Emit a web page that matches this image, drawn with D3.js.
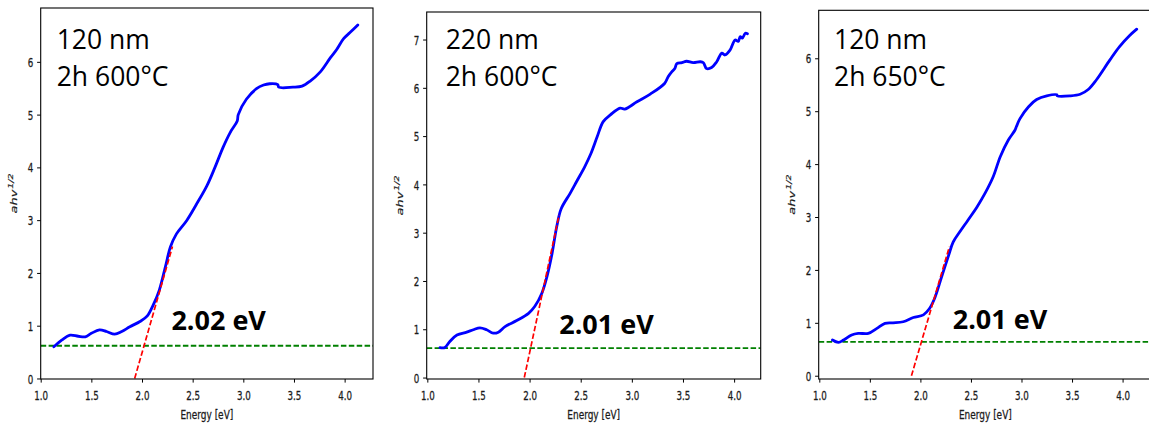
<!DOCTYPE html>
<html>
<head>
<meta charset="utf-8">
<script src="https://cdn.jsdelivr.net/npm/d3@7"></script>
<style>
  body { margin: 0; background: #fff; }
  svg { display: block; }
</style>
</head>
<body>
<svg id="fig" width="1149" height="426"></svg>
<script>
// Tauc plots: (alpha h nu)^(1/2) versus photon energy for three films.

// Film 1: 120 nm, 2h at 600 °C
const energy120at600 = [1.13, 1.21, 1.29, 1.37, 1.44, 1.50, 1.58, 1.65, 1.73, 1.80, 1.88, 1.98, 2.05, 2.11, 2.17, 2.23, 2.28, 2.34, 2.44, 2.54, 2.64, 2.72, 2.80, 2.87, 2.94, 2.95, 3.03, 3.13, 3.20, 3.26, 3.34, 3.35, 3.49, 3.58, 3.66, 3.76, 3.86, 3.92, 3.99, 4.05, 4.13];
const tauc120at600   = [0.60, 0.73, 0.82, 0.80, 0.79, 0.855, 0.92, 0.89, 0.84, 0.89, 0.98, 1.08, 1.18, 1.39, 1.67, 2.11, 2.49, 2.74, 2.99, 3.31, 3.65, 4.00, 4.38, 4.66, 4.88, 5.00, 5.29, 5.49, 5.56, 5.585, 5.57, 5.52, 5.52, 5.54, 5.635, 5.81, 6.08, 6.23, 6.44, 6.55, 6.70];

// Film 2: 220 nm, 2h at 600 °C
const energy220at600 = [1.124, 1.17, 1.22, 1.29, 1.385, 1.45, 1.515, 1.58, 1.645, 1.695, 1.76, 1.874, 1.99, 2.05, 2.12, 2.17, 2.22, 2.265, 2.31, 2.395, 2.46, 2.54, 2.60, 2.66, 2.72, 2.79, 2.885, 2.93, 3.05, 3.18, 3.32, 3.355, 3.39, 3.42, 3.44, 3.49, 3.535, 3.60, 3.67, 3.70, 3.73, 3.78, 3.83, 3.88, 3.91, 3.96, 4.01, 4.04, 4.06, 4.08, 4.11, 4.13];
const tauc220at600   = [0.62, 0.62, 0.745, 0.88, 0.94, 0.99, 1.03, 0.99, 0.92, 0.94, 1.055, 1.18, 1.33, 1.47, 1.745, 2.09, 2.57, 3.12, 3.50, 3.81, 4.06, 4.37, 4.64, 4.98, 5.30, 5.44, 5.58, 5.56, 5.71, 5.87, 6.09, 6.23, 6.33, 6.40, 6.50, 6.52, 6.55, 6.52, 6.54, 6.52, 6.40, 6.42, 6.54, 6.72, 6.68, 6.78, 6.99, 6.96, 7.06, 7.03, 7.13, 7.12];

// Film 3: 120 nm, 2h at 650 °C
const energy120at650 = [1.13, 1.19, 1.24, 1.32, 1.385, 1.485, 1.57, 1.65, 1.73, 1.83, 1.93, 2.03, 2.09, 2.14, 2.21, 2.28, 2.325, 2.39, 2.47, 2.56, 2.64, 2.72, 2.79, 2.87, 2.935, 2.95, 2.985, 3.07, 3.15, 3.25, 3.35, 3.355, 3.48, 3.58, 3.66, 3.74, 3.875, 3.97, 4.07, 4.14];
const tauc120at650   = [0.674, 0.63, 0.674, 0.77, 0.80, 0.80, 0.895, 0.99, 1.00, 1.02, 1.10, 1.15, 1.27, 1.46, 1.87, 2.28, 2.53, 2.72, 2.94, 3.19, 3.45, 3.76, 4.14, 4.455, 4.64, 4.71, 4.86, 5.085, 5.22, 5.29, 5.31, 5.29, 5.29, 5.32, 5.41, 5.59, 5.97, 6.22, 6.43, 6.55];

// Sample descriptions and extracted band gaps
const filmThickness = ["120 nm", "220 nm", "120 nm"];
const annealing     = ["2h 600°C", "2h 600°C", "2h 650°C"];
const bandGaps      = [2.02, 2.01, 2.01];      // eV, where the linear fit meets the baseline
const baselineLevel = [0.62, 0.61, 0.64];      // absorption baseline (green)
const fitSlope      = [6.7, 9.9, 6.5];         // slope of the linear fit (red)
const fitUpperLevel = [2.50, 3.37, 2.44];      // upper end of the fitted segment

// Tick labels
const energyTicks = [1.0, 1.5, 2.0, 2.5, 3.0, 3.5, 4.0];
const taucTicks = [[0, 1, 2, 3, 4, 5, 6], [0, 1, 2, 3, 4, 5, 6, 7], [0, 1, 2, 3, 4, 5, 6]];

const series = [
  [energy120at600, tauc120at600],
  [energy220at600, tauc220at600],
  [energy120at650, tauc120at650]
];

// Frame geometry for each subplot
const frames = [
  { left: 40.7,  right: 373,   top: 8,    bottom: 379, xDom: [1.0, 4.28],   yDom: [-0.01, 7.02], textDx: 16,   note: [2.29, 0.92] },
  { left: 426.7, right: 760.7, top: 12,   bottom: 379, xDom: [0.994, 4.26], yDom: [-0.03, 7.57], textDx: 19,   note: [2.29, 0.90] },
  { left: 818.7, right: 1152,  top: 10.3, bottom: 379, xDom: [0.994, 4.291], yDom: [-0.062, 6.907], textDx: 15.3, note: [2.32, 0.88] }
];

const svg = d3.select("#fig");
const squeeze = 0.68;   // narrow tick/label lettering
const inkGrey = "#1a1a1a";

frames.forEach((f, i) => {
  const x = d3.scaleLinear().domain(f.xDom).range([f.left, f.right]);
  const y = d3.scaleLinear().domain(f.yDom).range([f.bottom, f.top]);
  const g = svg.append("g");

  const clipId = "clip" + i;
  svg.append("clipPath").attr("id", clipId)
    .append("rect")
    .attr("x", f.left).attr("y", f.top)
    .attr("width", f.right - f.left).attr("height", f.bottom - f.top);

  const plot = g.append("g").attr("clip-path", `url(#${clipId})`);

  // Baseline
  plot.append("line")
    .attr("x1", x(f.xDom[0])).attr("x2", x(f.xDom[1]))
    .attr("y1", y(baselineLevel[i])).attr("y2", y(baselineLevel[i]))
    .attr("stroke", "#008000").attr("stroke-width", 1.9)
    .attr("stroke-dasharray", "5.5,2.4");

  // Measured curve
  const [ex, ty] = series[i];
  const pts = ex.map((e, k) => [e, ty[k]]);
  const line = d3.line().x(d => x(d[0])).y(d => y(d[1])).curve(d3.curveCatmullRom.alpha(0.5));
  plot.append("path")
    .attr("d", line(pts))
    .attr("fill", "none").attr("stroke", "#0000ff")
    .attr("stroke-width", 2.8).attr("stroke-linejoin", "round").attr("stroke-linecap", "round");

  // Linear fit of the absorption edge, extended down to zero
  const fitX = v => bandGaps[i] + (v - baselineLevel[i]) / fitSlope[i];
  plot.append("line")
    .attr("x1", x(fitX(0))).attr("y1", y(0))
    .attr("x2", x(fitX(fitUpperLevel[i]))).attr("y2", y(fitUpperLevel[i]))
    .attr("stroke", "#ff0000").attr("stroke-width", 1.7)
    .attr("stroke-dasharray", "5.5,2.4");

  // Axes
  const xAxis = g.append("g").attr("transform", `translate(0,${f.bottom})`)
    .call(d3.axisBottom(x).tickValues(energyTicks).tickFormat(d3.format(".1f")).tickSize(3.6));
  const yAxis = g.append("g").attr("transform", `translate(${f.left},0)`)
    .call(d3.axisLeft(y).tickValues(taucTicks[i]).tickFormat(d3.format("d")).tickSize(3.6));
  [xAxis, yAxis].forEach(a => {
    a.select(".domain").remove();
    a.selectAll(".tick line").attr("stroke", "#000").attr("stroke-width", 1);
    a.selectAll(".tick text")
      .attr("fill", inkGrey).attr("stroke", inkGrey).attr("stroke-width", 0.3)
      .attr("font-family", "DejaVu Sans").attr("font-size", 12.8);
  });
  xAxis.selectAll(".tick text")
    .attr("y", 21).attr("dy", 0).attr("transform", `scale(${squeeze},1)`);
  yAxis.selectAll(".tick text")
    .attr("x", -7.5 / squeeze).attr("dy", "0.36em").attr("transform", `scale(${squeeze},1)`);

  // Frame
  g.append("rect")
    .attr("x", f.left).attr("y", f.top)
    .attr("width", f.right - f.left).attr("height", f.bottom - f.top)
    .attr("fill", "none").attr("stroke", "#000").attr("stroke-width", 1.1);

  // Axis titles
  g.append("text")
    .attr("transform", `translate(${(f.left + f.right) / 2},418.5) scale(0.7,1)`)
    .attr("text-anchor", "middle")
    .attr("font-family", "DejaVu Sans").attr("font-size", 12.8)
    .attr("fill", inkGrey).attr("stroke", inkGrey).attr("stroke-width", 0.3)
    .text("Energy [eV]");

  const yl = g.append("text")
    .attr("transform", `translate(${f.left - 24},${(f.top + f.bottom) / 2}) rotate(-90) scale(1,0.7)`)
    .attr("text-anchor", "middle")
    .attr("font-family", "DejaVu Sans").attr("font-style", "italic")
    .attr("font-size", 13).attr("fill", inkGrey).attr("stroke", inkGrey).attr("stroke-width", 0.25);
  yl.append("tspan").text("ahv");
  yl.append("tspan").attr("font-size", 9.5).attr("dy", -5.5).attr("dx", 1).text("1/2");

  // Sample description
  const desc = g.append("g").attr("font-family", "Open Sans").attr("font-size", 26.5).attr("fill", "#000");
  desc.append("text").attr("x", f.left + f.textDx).attr("y", 49.3).text(filmThickness[i]);
  desc.append("text").attr("x", f.left + f.textDx).attr("y", 86).text(annealing[i]);

  // Band gap value
  g.append("text")
    .attr("x", x(f.note[0])).attr("y", y(f.note[1]))
    .attr("font-family", "Open Sans").attr("font-weight", "bold")
    .attr("font-size", 27).attr("fill", "#000")
    .text(d3.format(".2f")(bandGaps[i]) + " eV");
});
</script>
</body>
</html>
